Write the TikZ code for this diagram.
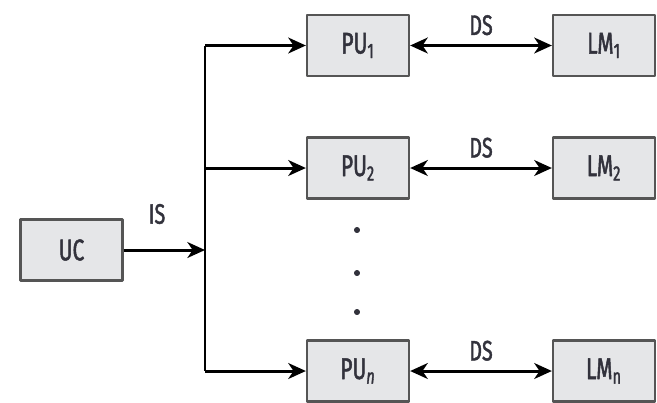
\documentclass[tikz,border=0pt]{standalone}
\usepackage{fontspec}
\setmainfont[FakeStretch=0.7,FakeBold=1.6]{Fira Sans}
\usetikzlibrary{arrows.meta}
\definecolor{boxfill}{RGB}{229,230,232}
\definecolor{boxline}{RGB}{85,85,85}
\definecolor{txt}{RGB}{50,50,60}
\tikzset{
  unit/.style={draw=boxline,fill=boxfill,line width=1.3pt,minimum width=2.04cm,minimum height=1.22cm,
    inner sep=0pt,text=txt,font=\fontsize{17}{20}\selectfont},
  lab/.style={text=txt,font=\fontsize{16}{19}\selectfont,inner sep=1pt},
  link/.style={line width=1.7pt,-{Stealth[length=10pt,width=9pt,inset=3pt]}},
  dlink/.style={line width=1.7pt,{Stealth[length=10pt,width=9pt,inset=3pt]}-{Stealth[length=10pt,width=9pt,inset=3pt]}}
}
\begin{document}
\begin{tikzpicture}[join=round] % control unit, PUs and local memories
  \useasboundingbox (0,0) rectangle (13.14,-8.04);
  \node[unit] (uc) at (1.43,-5.0) {UC};
  \node[unit] (pu1) at (7.16,-0.91) {PU\textsubscript{1}};
  \node[unit] (pu2) at (7.16,-3.36) {PU\textsubscript{2}};
  \node[unit] (pun) at (7.16,-7.42) {PU\textsubscript{\itshape n}};
  \node[unit] (lm1) at (12.08,-0.91) {LM\textsubscript{1}};
  \node[unit] (lm2) at (12.08,-3.36) {LM\textsubscript{2}};
  \node[unit] (lmn) at (12.08,-7.42) {LM\textsubscript{n}};
  % instruction stream bus
  \coordinate (bt) at (4.1,-0.91);
  \coordinate (b2) at (4.1,-3.36);
  \coordinate (bm) at (4.1,-5.0);
  \coordinate (bb) at (4.1,-7.42);
  \draw[line width=1.7pt] (bt) -- (bb);
  \draw[link] (uc) -- (bm);
  \draw[link] (bt) -- (pu1);
  \draw[link] (b2) -- (pu2);
  \draw[link] (bb) -- (pun);
  \node[lab] (is) at (3.14,-4.28) {IS};
  % data streams
  \draw[dlink] (pu1) -- node[lab,above=4pt] (ds1) {DS} (lm1);
  \draw[dlink] (pu2) -- node[lab,above=4pt] (ds2) {DS} (lm2);
  \draw[dlink] (pun) -- node[lab,above=4pt] (dsn) {DS} (lmn);
  \filldraw[txt] (7.14,-4.6) circle (1.5pt)
                 (7.14,-5.46) circle (1.5pt)
                 (7.14,-6.24) circle (1.5pt);
\end{tikzpicture}
\end{document}
